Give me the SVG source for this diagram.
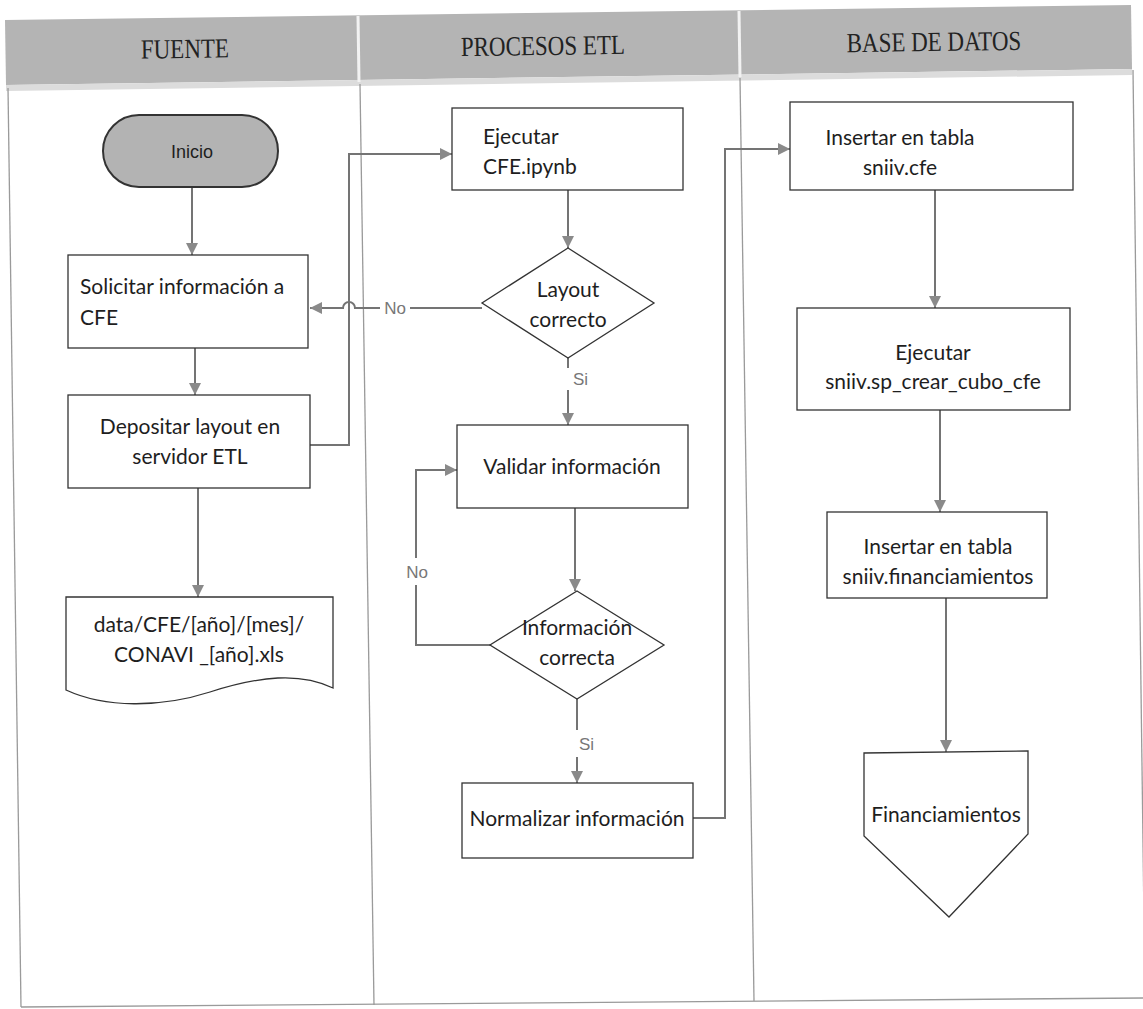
<svg xmlns="http://www.w3.org/2000/svg" width="1143" height="1009" viewBox="0 0 1143 1009">
<defs>
<marker id="arr" viewBox="0 0 10 10" refX="10" refY="5" markerWidth="12" markerHeight="12" markerUnits="userSpaceOnUse" orient="auto">
<path d="M0,0 L10,5 L0,10 Z" fill="#8a8a8a"/>
</marker>
<style>
.bg{fill:#ffffff}
.hdr{fill:#b4b4b4}
.hdr2{fill:#dcdcdc}
.frame{stroke:#9a9a9a;stroke-width:1.3;fill:none}
.htxt{font-family:"Liberation Serif",serif;font-size:23px;fill:#222;text-anchor:middle}
.box{fill:#ffffff;stroke:#333;stroke-width:1.3}
.term{fill:#b3b3b3;stroke:#333;stroke-width:2}
.t{font-family:Lato,"Liberation Sans",sans-serif;font-size:21px;fill:#1e1e1e}
.c{text-anchor:middle}
.lbl{font-family:"Liberation Sans",sans-serif;font-size:17px;fill:#777}
.con{stroke:#747474;stroke-width:2;fill:none}
.ca{stroke:#747474;stroke-width:2;fill:none;marker-end:url(#arr)}
</style>
</defs>
<rect class="bg" x="0" y="0" width="1143" height="1009"/>
<g id="frame">
<polygon class="hdr" points="5,20 1131,5 1132,69 6,85"/>
<polygon class="hdr2" points="6,85 1132,69 1132,75 6,91"/>
<line x1="358" y1="16" x2="359" y2="82" stroke="#f2f2f2" stroke-width="3"/>
<line x1="739" y1="11" x2="740" y2="77" stroke="#f2f2f2" stroke-width="3"/>
<line class="frame" x1="8" y1="88" x2="21" y2="1007"/>
<line class="frame" x1="360" y1="84" x2="374" y2="1005"/>
<line class="frame" x1="740" y1="78" x2="754" y2="1001"/>
<line class="frame" x1="1133" y1="70" x2="1145" y2="998"/>
<line class="frame" x1="21" y1="1007" x2="1143" y2="998"/>
<text class="htxt" transform="translate(185 58) rotate(-0.76) scale(1 1.2)">FUENTE</text>
<text class="htxt" transform="translate(543 55) rotate(-0.76) scale(1 1.2)">PROCESOS ETL</text>
<text class="htxt" transform="translate(934 51) rotate(-0.76) scale(1 1.2)">BASE DE DATOS</text>
</g>
<g id="connectors">
<line class="ca" x1="192" y1="187" x2="192" y2="255"/>
<line class="ca" x1="195" y1="348" x2="195" y2="395"/>
<line class="ca" x1="198" y1="488" x2="198" y2="597"/>
<polyline class="ca" points="310,445 349,445 349,154 452,154"/>
<line class="ca" x1="568" y1="190" x2="568" y2="248"/>
<polyline class="con" points="482,308 410,308"/>
<path class="ca" d="M380,308 H355 A6,6 0 0 0 343,308 H310"/>
<line class="con" x1="568" y1="358" x2="568" y2="368"/>
<line class="ca" x1="568" y1="390" x2="568" y2="425"/>
<line class="ca" x1="575" y1="508" x2="575" y2="591"/>
<polyline class="con" points="490,645 416,645 416,585"/>
<polyline class="ca" points="416,558 416,470 457,470"/>
<line class="con" x1="577" y1="699" x2="577" y2="730"/>
<line class="ca" x1="577" y1="757" x2="577" y2="783"/>
<polyline class="ca" points="693,818 725,818 725,149 790,149"/>
<line class="ca" x1="935" y1="190" x2="935" y2="308"/>
<line class="ca" x1="940" y1="410" x2="940" y2="512"/>
<line class="ca" x1="946" y1="598" x2="946" y2="752"/>
<text class="lbl" x="395" y="314" text-anchor="middle">No</text>
<text class="lbl" x="573" y="385">Si</text>
<text class="lbl" x="417" y="578" text-anchor="middle">No</text>
<text class="lbl" x="579" y="750">Si</text>
</g>
<g id="inicio">
<rect class="term" x="103" y="115" width="175" height="72" rx="36" ry="36"/>
<text x="192" y="158" font-family="'Liberation Sans',sans-serif" font-size="18" fill="#1e1e1e" text-anchor="middle">Inicio</text>
</g>
<g id="solicitar">
<rect class="box" x="68" y="255" width="240" height="93"/>
<text class="t" x="80" y="294">Solicitar información a</text>
<text class="t" x="80" y="325">CFE</text>
</g>
<g id="depositar">
<rect class="box" x="68" y="395" width="242" height="93"/>
<text class="t c" x="190" y="434">Depositar layout en</text>
<text class="t c" x="190" y="464">servidor ETL</text>
</g>
<g id="documento">
<path class="box" d="M66,597 H333 V688 C300,672 260,676 210,692 C160,708 105,708 66,690 Z"/>
<text class="t c" x="199" y="632">data/CFE/[año]/[mes]/</text>
<text class="t c" x="199" y="662">CONAVI _[año].xls</text>
</g>
<g id="ejecutar-cfe">
<rect class="box" x="452" y="108" width="231" height="82"/>
<text class="t" x="483" y="144">Ejecutar</text>
<text class="t" x="483" y="174">CFE.ipynb</text>
</g>
<g id="layout-correcto">
<polygon class="box" points="568,248 654,303 568,358 482,303"/>
<text class="t c" x="568" y="297">Layout</text>
<text class="t c" x="568" y="327">correcto</text>
</g>
<g id="validar">
<rect class="box" x="457" y="425" width="231" height="83"/>
<text class="t c" x="572" y="474">Validar información</text>
</g>
<g id="informacion-correcta">
<polygon class="box" points="577,591 664,645 577,699 490,645"/>
<text class="t c" x="577" y="635">Información</text>
<text class="t c" x="577" y="665">correcta</text>
</g>
<g id="normalizar">
<rect class="box" x="462" y="783" width="231" height="75"/>
<text class="t c" x="577" y="826">Normalizar información</text>
</g>
<g id="insertar-cfe">
<rect class="box" x="790" y="102" width="283" height="88"/>
<text class="t c" x="900" y="145">Insertar en tabla</text>
<text class="t c" x="900" y="175">sniiv.cfe</text>
</g>
<g id="ejecutar-sp">
<rect class="box" x="797" y="308" width="273" height="102"/>
<text class="t c" x="933" y="360">Ejecutar</text>
<text class="t c" x="933" y="389">sniiv.sp_crear_cubo_cfe</text>
</g>
<g id="insertar-fin">
<rect class="box" x="827" y="512" width="220" height="86"/>
<text class="t c" x="938" y="554">Insertar en tabla</text>
<text class="t c" x="938" y="584">sniiv.financiamientos</text>
</g>
<g id="financiamientos">
<polygon class="box" points="864,753 1028,751 1028,834 949,917 864,836"/>
<text class="t c" x="946" y="822">Financiamientos</text>
</g>
</svg>
